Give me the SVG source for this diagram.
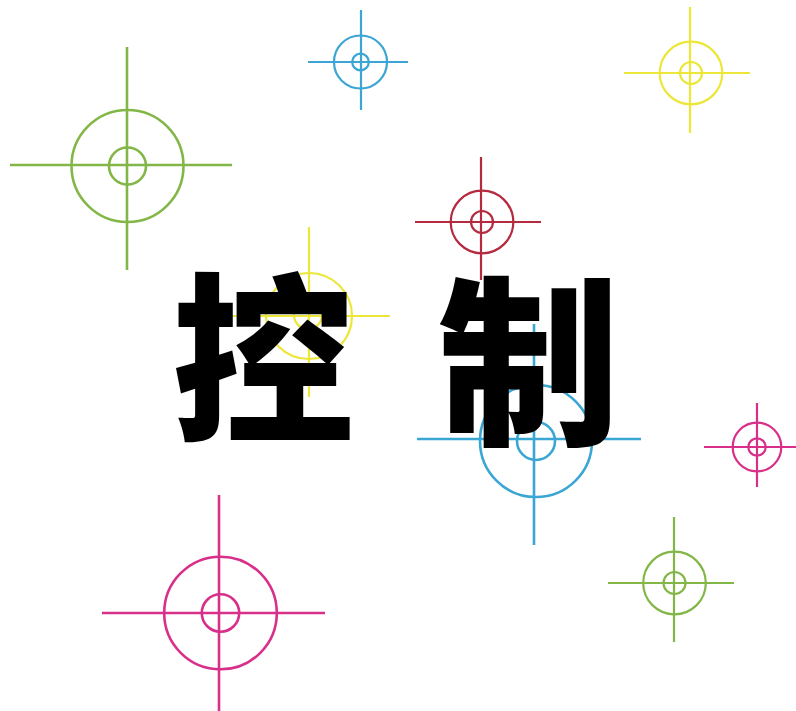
<svg xmlns="http://www.w3.org/2000/svg" width="796" height="711" viewBox="0 0 796 711">
<style>
.t{fill:none;stroke-linecap:butt}
.g{stroke:#82b748}
.b{stroke:#3ba6d3}
.y{stroke:#ece638}
.r{stroke:#b52a3e}
.m{stroke:#d8308a}
.w1{stroke-width:2.6}
.w2{stroke-width:2.2}
.txt{font-family:"Noto Sans CJK SC","Noto Sans CJK JP",serif;font-weight:900;fill:#000;text-anchor:middle}
</style>
<rect width="796" height="711" fill="#fff"/>
<g id="green-large" class="t g w1">
<line x1="10" y1="165" x2="232" y2="165"/><line x1="127" y1="47" x2="127" y2="270"/>
<circle cx="127.5" cy="166" r="56"/><circle cx="127.5" cy="166" r="18.5"/>
</g>
<g id="blue-small" class="t b w2">
<line x1="308" y1="62" x2="408" y2="62"/><line x1="361" y1="10" x2="361" y2="110"/>
<circle cx="360.5" cy="62" r="26.5"/><circle cx="360.5" cy="62" r="8.3"/>
</g>
<g id="yellow-top" class="t y w2">
<line x1="624" y1="73" x2="750" y2="73"/><line x1="690" y1="7" x2="690" y2="133"/>
<circle cx="691" cy="73" r="31.3"/><circle cx="691" cy="73" r="11"/>
</g>
<g id="red" class="t r w2">
<line x1="415" y1="222" x2="541" y2="222"/><line x1="481" y1="157" x2="481" y2="280"/>
<circle cx="482" cy="222" r="31.3"/><circle cx="482" cy="222" r="11"/>
</g>
<g id="yellow-mid" class="t y w2">
<line x1="230" y1="316" x2="390" y2="316"/><line x1="309" y1="227" x2="309" y2="397"/>
<circle cx="309" cy="316" r="43"/><circle cx="308" cy="315" r="14"/>
</g>
<g id="blue-large" class="t b w1">
<line x1="417" y1="439" x2="641" y2="439"/><line x1="534" y1="324" x2="534" y2="545"/>
<circle cx="536" cy="441" r="56"/><circle cx="536" cy="441" r="19"/>
</g>
<g id="magenta-small" class="t m w2">
<line x1="704" y1="447" x2="796" y2="447"/><line x1="757" y1="403" x2="757" y2="487"/>
<circle cx="757" cy="447" r="24.3"/><circle cx="757" cy="447" r="8.7"/>
</g>
<g id="magenta-large" class="t m w1">
<line x1="102" y1="613" x2="325" y2="613"/><line x1="219" y1="495" x2="219" y2="711"/>
<circle cx="220.5" cy="613" r="56.3"/><circle cx="220.5" cy="613" r="18.7"/>
</g>
<g id="green-small" class="t g w2">
<line x1="608" y1="583" x2="734" y2="583"/><line x1="674" y1="517" x2="674" y2="642"/>
<circle cx="674.5" cy="583" r="31.3"/><circle cx="674.5" cy="583" r="11"/>
</g>
<g id="title">
<text class="txt" x="263" y="428" font-size="182">控</text>
<text class="txt" x="529" y="430" font-size="182">制</text>
</g>
</svg>
